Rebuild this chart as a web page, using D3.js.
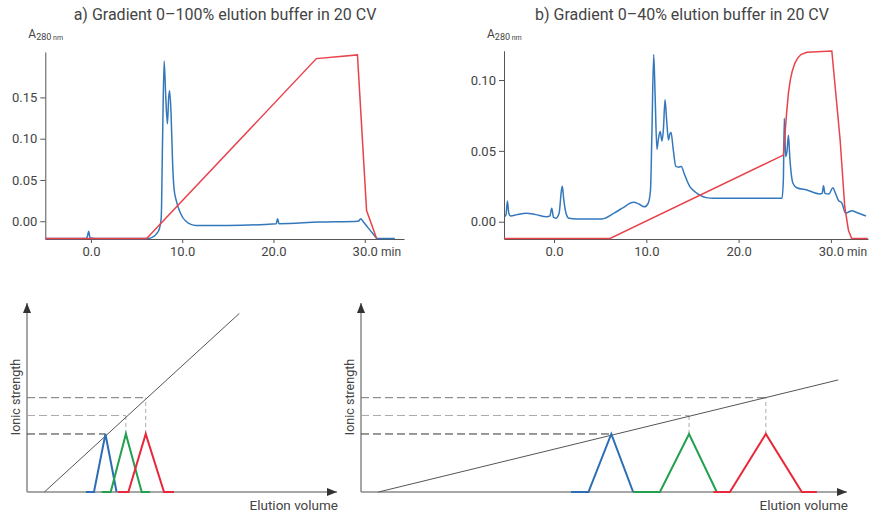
<!DOCTYPE html>
<html>
<head>
<meta charset="utf-8">
<script src="https://cdn.jsdelivr.net/npm/d3@7"></script>
<style>
body { margin: 0; background: #fff; }
text { font-family: Roboto, "Noto Sans", sans-serif; fill: #444; }
</style>
</head>
<body>
<script>
// a) gradient 0-100% : UV trace and gradient
const timeA = [-5.0, -0.6, -0.4, -0.25, -0.1, 0.5, 6.2, 6.8, 7.2, 7.5, 7.7, 7.85, 8.02, 8.2, 8.38, 8.52, 8.62, 8.78, 8.95, 9.1, 9.35, 9.8, 10.4, 11.5, 15.0, 20.3, 20.45, 20.6, 25.0, 29.3, 29.55, 29.8, 30.3, 30.9, 31.4, 33.3];
const uvA = [-0.021, -0.021, -0.019, -0.012, -0.020, -0.021, -0.021, -0.019, -0.015, -0.009, 0.004, 0.100, 0.194, 0.150, 0.118, 0.150, 0.158, 0.130, 0.070, 0.040, 0.025, 0.010, 0.000, -0.005, -0.005, -0.003, 0.003, -0.003, -0.001, 0.000, 0.003, 0.000, -0.007, -0.015, -0.021, -0.021];
const gradTimeA = [-5.0, 6.1, 24.7, 29.2, 30.2, 31.3];
const gradA = [-0.021, -0.021, 0.197, 0.2015, 0.013, -0.021];

// b) gradient 0-40%
const timeB = [-5.35, -5.2, -5.05, -4.9, -4.7, -4.0, -3.0, -2.0, -0.8, -0.45, -0.25, -0.05, 0.2, 0.55, 0.8, 0.9, 1.05, 1.3, 1.6, 2.5, 5.2, 6.5, 7.5, 8.6, 9.2, 9.8, 10.2, 10.45, 10.6, 10.8, 10.95, 11.15, 11.3, 11.5, 11.7, 11.85, 12.03, 12.2, 12.4, 12.55, 12.68, 12.9, 13.2, 13.5, 13.8, 14.1, 14.7, 15.3, 15.8, 16.5, 17.3, 24.7, 24.85, 24.95, 25.1, 25.25, 25.4, 25.55, 25.7, 25.9, 26.3, 27.4, 28.8, 29.05, 29.2, 29.35, 29.8, 30.2, 30.5, 30.8, 31.2, 31.6, 31.9, 32.25, 32.8, 33.8];
const uvB = [0.0035, 0.005, 0.0146, 0.006, 0.004, 0.005, 0.006, 0.005, 0.0035, 0.004, 0.0095, 0.003, 0.0025, 0.006, 0.022, 0.025, 0.016, 0.006, 0.0025, 0.002, 0.002, 0.006, 0.010, 0.0137, 0.0125, 0.0105, 0.013, 0.022, 0.060, 0.118, 0.090, 0.051, 0.058, 0.0636, 0.057, 0.065, 0.086, 0.072, 0.0577, 0.062, 0.0629, 0.052, 0.039, 0.0385, 0.039, 0.034, 0.025, 0.021, 0.0188, 0.017, 0.0165, 0.0165, 0.030, 0.073, 0.046, 0.050, 0.061, 0.045, 0.034, 0.027, 0.024, 0.0224, 0.0196, 0.020, 0.0254, 0.020, 0.0196, 0.024, 0.020, 0.0153, 0.013, 0.006, 0.0068, 0.0078, 0.0065, 0.004];
const gradTimeB = [-5.42, 6.07, 24.85, 25.0, 25.2, 25.4, 25.6, 25.8, 26.1, 26.4, 26.75, 27.4, 30.1, 31.0, 31.5, 31.9, 32.25, 34.0];
const gradB = [-0.0118, -0.0118, 0.047, 0.060, 0.0765, 0.091, 0.1, 0.106, 0.112, 0.1155, 0.118, 0.1196, 0.1205, 0.0577, 0.0106, -0.006, -0.0118, -0.0118];

const timeTicks = [0, 10, 20, 30];
const auTicksA = [0, 0.05, 0.10, 0.15];
const auTicksB = [0, 0.05, 0.10];

// schematics: ionic strength vs elution volume
const levels = [30.7, 40.5, 49.9];
const rampXLeft = [5.6, 68.5];
const rampXRight = [3.6, 98.2];
const rampYLeft = [0, 94.5];
const rampYRight = [0, 59.3];
const peakShape = [0, 0, 1, 0, 0];
const peaksLeft = [
    [19.0, 21.6, 25.3, 28.9, 28.9],
    [24.1, 27.0, 31.9, 37.0, 39.7],
    [29.3, 32.7, 38.3, 44.2, 47.4]
];
const peaksRight = [
    [43.2, 46.8, 51.5, 56.0, 56.0],
    [56.0, 61.5, 67.5, 73.2, 73.2],
    [72.5, 75.9, 83.3, 90.7, 93.8]
];

const blue = "#3478bc", red = "#e8434c";
const peakColors = ["#2c6db3", "#22a04f", "#e8283a"];
const levelColors = ["#333", "#aaa", "#777"];

const svg = d3.select("body")
    .append("svg")
    .attr("width", 874)
    .attr("height", 517);

function chromatogram(o) {
    const x = d3.scaleLinear().domain(o.xDomain).range(o.xRange);
    const y = d3.scaleLinear().domain(o.yDomain).range([239, o.top]);

    const g = svg.append("g");

    const xAxis = g.append("g")
        .attr("transform", "translate(0,239)")
        .call(d3.axisBottom(x).tickValues(timeTicks).tickFormat(d3.format(".1f")).tickSize(4).tickSizeOuter(0).tickPadding(4));
    const yAxis = g.append("g")
        .attr("transform", `translate(${o.xRange[0]},0)`)
        .call(d3.axisLeft(y).tickValues(o.yTicks).tickFormat(d3.format(".2f")).tickSize(5).tickSizeOuter(0).tickPadding(3));
    [xAxis, yAxis].forEach(a => {
        a.select(".domain").attr("stroke", "#555");
        a.selectAll(".tick line").attr("stroke", "#555");
        a.selectAll(".tick text").style("font-size", "13px").attr("fill", "#555");
    });

    const line = d3.line()
        .x(d => x(d[0]))
        .y(d => y(d[1]));

    g.append("path")
        .datum(d3.zip(o.uvT, o.uv))
        .attr("fill", "none")
        .attr("stroke", blue)
        .attr("stroke-width", 1.5)
        .attr("d", line.curve(d3.curveMonotoneX));

    g.append("path")
        .datum(d3.zip(o.gT, o.g))
        .attr("fill", "none")
        .attr("stroke", red)
        .attr("stroke-width", 1.5)
        .attr("d", line.curve(d3.curveLinear));

    g.append("text")
        .text(o.title)
        .attr("x", o.titleX)
        .attr("y", 20)
        .attr("text-anchor", "middle")
        .style("font-size", "16px")
        .attr("fill", "#333");

    const lab = g.append("text")
        .attr("x", o.xRange[0] - 17)
        .attr("y", 38)
        .style("font-size", "12px");
    lab.append("tspan").text("A");
    lab.append("tspan").text("280").attr("dy", 2).style("font-size", "9px");
    lab.append("tspan").text(" nm").style("font-size", "7px");

    g.append("text")
        .text("min")
        .attr("x", o.minX)
        .attr("y", 256)
        .style("font-size", "12px");
}

chromatogram({
    xDomain: [-5.0, 34.3], xRange: [45.3, 404],
    yDomain: [-0.0215, 0.205], top: 52, yTicks: auTicksA,
    uvT: timeA, uv: uvA, gT: gradTimeA, g: gradA,
    title: "a) Gradient 0–100% elution buffer in 20 CV", titleX: 225, minX: 381
});
chromatogram({
    xDomain: [-5.42, 34.02], xRange: [504, 868],
    yDomain: [-0.0122, 0.1207], top: 50.7, yTicks: auTicksB,
    uvT: timeB, uv: uvB, gT: gradTimeB, g: gradB,
    title: "b) Gradient 0–40% elution buffer in 20 CV", titleX: 682, minX: 847
});

// arrow head for the schematic axes
svg.append("defs").append("marker")
    .attr("id", "arrow")
    .attr("viewBox", "0 0 10 8")
    .attr("refX", 10)
    .attr("refY", 4)
    .attr("markerUnits", "userSpaceOnUse")
    .attr("markerWidth", 10)
    .attr("markerHeight", 8)
    .attr("orient", "auto")
    .append("path")
    .attr("d", "M0,0L10,4L0,8Z")
    .attr("fill", "#333");

function schematic(o) {
    const x = d3.scaleLinear().domain([0, 100]).range(o.xRange);
    const y = d3.scaleLinear().domain([0, 100]).range([492, 303]);
    const g = svg.append("g");
    const line = d3.line().x(d => x(d[0])).y(d => y(d[1]));

    // axes
    g.append("path")
        .attr("d", line([[0, 0], [0, 100]]))
        .attr("stroke", "#888").attr("stroke-width", 1.5)
        .attr("marker-end", "url(#arrow)");
    g.append("path")
        .attr("d", line([[0, 0], [100, 0]]))
        .attr("stroke", "#888").attr("stroke-width", 1.5)
        .attr("marker-end", "url(#arrow)");

    // dashed guides
    levels.forEach((lv, i) => {
        const apex = o.peaks[i][2];
        g.append("path")
            .attr("d", line([[0, lv], [apex, lv]]))
            .attr("stroke", levelColors[i])
            .attr("stroke-width", 1)
            .attr("stroke-dasharray", "8,4");
        if (i > 0) {
            g.append("path")
                .attr("d", line([[apex, levels[0]], [apex, lv]]))
                .attr("stroke", "#aaa")
                .attr("stroke-width", 1)
                .attr("stroke-dasharray", "4,3");
        }
    });

    // salt ramp
    g.append("path")
        .attr("d", line(d3.zip(o.rampX, o.rampY)))
        .attr("stroke", "#555")
        .attr("stroke-width", 1);

    // eluted peaks
    o.peaks.forEach((p, i) => {
        g.append("path")
            .attr("d", line(p.map((v, j) => [v, peakShape[j] * levels[0]])))
            .attr("fill", "none")
            .attr("stroke", peakColors[i])
            .attr("stroke-width", 2);
    });

    g.append("text")
        .text("Ionic strength")
        .attr("transform", `translate(${o.xRange[0] - 7},397) rotate(-90)`)
        .attr("text-anchor", "middle")
        .style("font-size", "12.5px")
        .attr("fill", "#555");
    g.append("text")
        .text("Elution volume")
        .attr("x", o.xRange[1] + 1)
        .attr("y", 510)
        .attr("text-anchor", "end")
        .style("font-size", "13.5px")
        .attr("fill", "#555");
}

schematic({ xRange: [27, 337], rampX: rampXLeft, rampY: rampYLeft, peaks: peaksLeft });
schematic({ xRange: [361, 847], rampX: rampXRight, rampY: rampYRight, peaks: peaksRight });
</script>
</body>
</html>
